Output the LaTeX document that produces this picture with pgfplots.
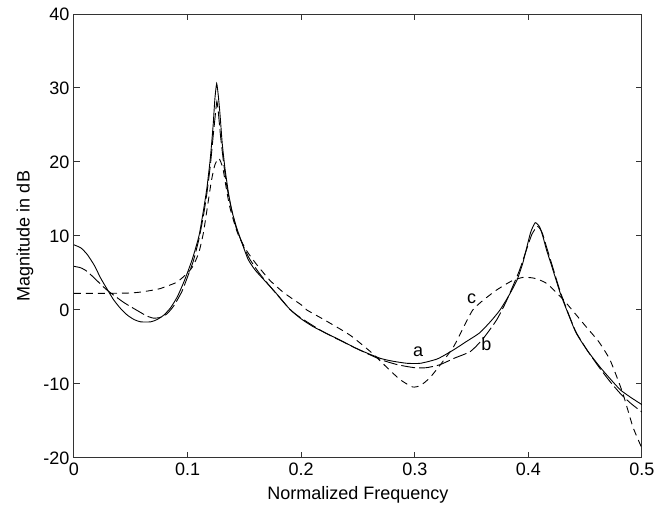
\documentclass[border=0pt]{standalone}
\usepackage{pgfplots}
\pgfplotsset{compat=1.18}
\usepackage{fontspec}
\setmainfont{Liberation Sans}
\begin{document}
\begin{tikzpicture}
\useasboundingbox (-74pt,-56pt) rectangle (580pt,458pt);
\begin{axis}[
  at={(0pt,0pt)}, anchor=south west,
  scale only axis, width=568pt, height=444pt,
  xmin=0, xmax=0.5, ymin=-20, ymax=40,
  xtick={0,0.1,0.2,0.3,0.4,0.5},
  ytick={-20,-10,0,10,20,30,40},
  xticklabels={0,0.1,0.2,0.3,0.4,0.5},
  /pgf/number format/assume math mode=true,
  tick align=inside, major tick length=6pt,
  xtick pos=both, ytick pos=both,
  axis line style={line width=1pt, black!80},
  tick style={line width=1pt, black!80},
  every tick label/.append style={font=\fontsize{18}{20}\selectfont},
  label style={font=\fontsize{18}{20}\selectfont},
  xlabel={Normalized Frequency},
  ylabel={Magnitude in dB},
  xlabel style={at={(axis description cs:0.5,-0.0833)}, anchor=center},
  ylabel style={at={(axis description cs:-0.0863,0.5)}, anchor=center},
  yticklabel style={xshift=-1pt},
  xticklabel style={yshift=-1pt},
]
% curve a (solid)
\addplot[black, line width=0.9pt, no marks, smooth, tension=0.35] coordinates {
(0,8.8) (0.006,8.4) (0.0117,7.5) (0.018,6.0) (0.0235,4.3) (0.03,2.6) (0.035,1.35)
(0.041,0.2) (0.047,-0.7) (0.053,-1.3) (0.0587,-1.6) (0.0675,-1.6) (0.073,-1.3)
(0.079,-0.7) (0.085,0.3) (0.091,1.8) (0.097,3.9) (0.104,6.8) (0.11,10.0) (0.114,13.5)
(0.117,16.5) (0.12,20.5) (0.1225,25) (0.124,28.5) (0.1256,30.6) (0.127,29) (0.1285,26.5)
(0.1305,22.5) (0.133,19) (0.136,15.8) (0.1388,13.5) (0.143,11.2) (0.148,9.0) (0.1534,6.8)
(0.16,5.3) (0.1725,3.2) (0.18,1.9) (0.19,0.1) (0.2,-1.2) (0.21,-2.2) (0.22,-3.0)
(0.234,-4.05) (0.25,-5.3) (0.269,-6.5) (0.28,-6.9) (0.293,-7.2) (0.305,-7.2) (0.32,-6.6)
(0.334,-5.4) (0.345,-4.3) (0.357,-3.1) (0.367,-1.5) (0.375,0) (0.383,2) (0.39,4.05)
(0.395,6.3) (0.398,8.1) (0.402,10.5) (0.406,11.8) (0.41,11.2) (0.413,9.8) (0.416,8.1)
(0.42,6.2) (0.428,2.3) (0.435,-0.5) (0.442,-3.1) (0.452,-5.5) (0.463,-7.7) (0.472,-9.3)
(0.481,-10.8) (0.49,-11.8) (0.5,-12.8)
};
% curve b (long dashes)
\addplot[black, line width=0.9pt, no marks, smooth, tension=0.35, dash pattern=on 14pt off 4pt] coordinates {
(0,5.9) (0.006,5.7) (0.0117,5.2) (0.02,4.0) (0.029,2.7) (0.044,1.0) (0.056,-0.1)
(0.064,-0.8) (0.070,-1.1) (0.076,-1.0) (0.082,-0.5) (0.088,0.6) (0.095,2.5) (0.1,4.5)
(0.105,6.6) (0.11,9.6) (0.114,12.8) (0.117,15.8) (0.12,19.5) (0.1225,23.5) (0.1245,26.5)
(0.1258,28.2) (0.1272,26.5) (0.129,23.5) (0.132,19.5) (0.135,16.3) (0.139,13.4) (0.143,11)
(0.15,8.3) (0.155,6.8) (0.163,5) (0.1725,3.2) (0.19,0.1) (0.2,-1.1) (0.22,-3.0)
(0.25,-5.3) (0.27,-6.7) (0.285,-7.4) (0.3,-7.8) (0.31,-7.8) (0.322,-7.4) (0.335,-6.5)
(0.349,-5.6) (0.36,-3.9) (0.372,-1.35) (0.38,1.0) (0.386,3.1) (0.392,5.3) (0.398,8.0)
(0.403,10.2) (0.408,11.3) (0.412,10.5) (0.416,8.5) (0.42,6.5) (0.428,2.5) (0.435,-0.4)
(0.442,-3.0) (0.452,-5.5) (0.463,-7.9) (0.472,-9.7) (0.481,-11.3) (0.49,-12.6) (0.5,-13.8)
};
% curve c (short dashes)
\addplot[black, line width=0.9pt, no marks, smooth, tension=0.35, dash pattern=on 7pt off 5pt] coordinates {
(0,2.25) (0.03,2.25) (0.05,2.3) (0.06,2.45) (0.07,2.7) (0.076,2.9) (0.085,3.4) (0.091,3.8)
(0.1,5) (0.105,6) (0.11,7.8) (0.114,10.5) (0.118,14.5) (0.121,17.5) (0.124,19.6)
(0.1275,20.5) (0.131,19.2) (0.134,16.5) (0.137,14) (0.141,11.8) (0.145,10) (0.152,8)
(0.16,6.3) (0.1725,4.0) (0.185,2.3) (0.2,0.7) (0.205,0) (0.22,-1.3) (0.243,-3.4)
(0.263,-5.9) (0.275,-7.7) (0.287,-9.4) (0.298,-10.4) (0.305,-10.2) (0.313,-9.2)
(0.322,-7.5) (0.334,-5.0) (0.343,-2.3) (0.351,0) (0.36,1.3) (0.372,2.7) (0.385,3.9)
(0.395,4.4) (0.405,4.3) (0.416,3.6) (0.431,1.35) (0.451,-2.3) (0.462,-4.3) (0.472,-6.8)
(0.483,-11.2) (0.492,-15.8) (0.5,-18.7)
};
\node[font=\fontsize{18}{20}\selectfont] at (axis cs:0.303,-5.6) {a};
\node[font=\fontsize{18}{20}\selectfont] at (axis cs:0.363,-4.6) {b};
\node[font=\fontsize{18}{20}\selectfont] at (axis cs:0.350,1.5) {c};
\end{axis}
\end{tikzpicture}
\end{document}
